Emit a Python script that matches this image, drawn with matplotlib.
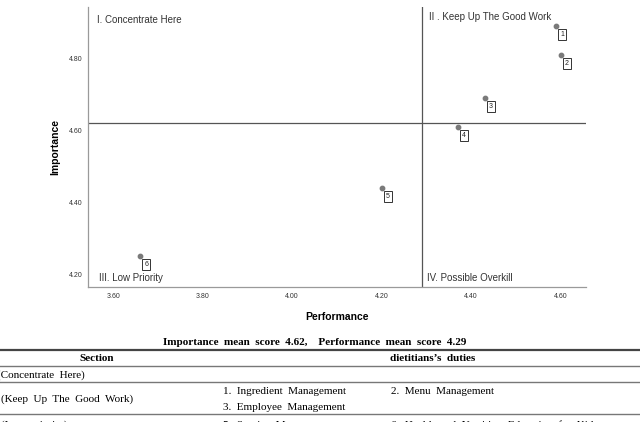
import matplotlib
matplotlib.use("Agg")
import matplotlib.pyplot as plt
from matplotlib.lines import Line2D

# ---- data ----
performance = [4.59, 4.60, 4.43, 4.37, 4.20, 3.66]
importance = [4.89, 4.81, 4.69, 4.61, 4.44, 4.25]
point_labels = ["1", "2", "3", "4", "5", "6"]
imp_mean = 4.62
perf_mean = 4.29
x_ticks = [3.60, 3.80, 4.00, 4.20, 4.40, 4.60]
y_ticks = [4.20, 4.40, 4.60, 4.80]
quadrants = ["I. Concentrate Here", "II . Keep Up The Good Work",
             "III. Low Priority", "IV. Possible Overkill"]
title_text = "Importance  mean  score  4.62,    Performance  mean  score  4.29"
table_header = ["Section", "dietitians\u2019s  duties"]
table_sections = ["(Concentrate  Here)", "(Keep  Up  The  Good  Work)", "(Low  priority)"]
table_duties = [[], ["1.  Ingredient  Management", "2.  Menu  Management", "3.  Employee  Management"],
                ["5.  Service  Management", "6.  Health  and  Nutrition  Education  for  Kids"]]

W, H = 640, 422
fig = plt.figure(figsize=(W / 100, H / 100), dpi=100)

def fx(px):
    return px / W

def fy(py):
    return 1 - py / H

ax = fig.add_axes([fx(87.7), fy(287), fx(585.7) - fx(87.7), fy(7) - fy(287)])
sans = "Liberation Sans"
serif = "Liberation Serif"

ax.set_xlim(3.543, 4.656)
ax.set_ylim(4.164, 4.943)
for s in ["top", "right"]:
    ax.spines[s].set_visible(False)
for s in ["left", "bottom"]:
    ax.spines[s].set_color("#9a9a9a")
    ax.spines[s].set_linewidth(0.9)

ax.axhline(imp_mean, color="#555555", lw=0.9)
ax.axvline(perf_mean, color="#555555", lw=0.9)

ax.scatter(performance, importance, s=10, color="#7a7a7a", zorder=3)
for x, y, lab in zip(performance, importance, point_labels):
    ax.annotate(lab, (x, y), xytext=(4.5, -6.3), textcoords="offset points",
                ha="center", va="center", fontsize=5, family=sans, color="#222222",
                bbox=dict(boxstyle="square,pad=0.3", fc="white", ec="#333333", lw=0.7))

ax.set_xticks(x_ticks)
ax.set_xticklabels([f"{v:.2f}" for v in x_ticks])
ax.set_yticks(y_ticks)
ax.set_yticklabels([f"{v:.2f}" for v in y_ticks])
ax.tick_params(length=0, labelsize=5, labelcolor="#333333")
ax.tick_params(axis="x", pad=4)
ax.tick_params(axis="y", pad=4)
for t in ax.get_xticklabels() + ax.get_yticklabels():
    t.set_family(sans)

ax.set_xlabel("Performance", family=sans, fontsize=7.5, fontweight="bold", labelpad=9)
ax.set_ylabel("Importance", family=sans, fontsize=7.5, fontweight="bold", labelpad=6)

qkw = dict(family=sans, fontsize=7, color="#333333", va="center", ha="left")
ax.text(3.563, 4.907, quadrants[0], **qkw)
ax.text(4.306, 4.914, quadrants[1], **qkw)
ax.text(3.569, 4.19, quadrants[2], **qkw)
ax.text(4.302, 4.19, quadrants[3], **qkw)

# ---- caption + table ----
fig.text(fx(315), fy(342.7), title_text, ha="center", va="center",
         family=serif, fontweight="bold", fontsize=8)

for yy, lw, col in [(350, 1.6, "#444444"), (366, 1.0, "#777777"),
                    (382, 1.0, "#777777"), (413.5, 1.0, "#777777")]:
    fig.add_artist(Line2D([0, 1], [fy(yy), fy(yy)], transform=fig.transFigure,
                          color=col, lw=lw))

tkw = dict(family=serif, fontsize=8, va="center")
fig.text(fx(96.7), fy(358.3), table_header[0], ha="center", fontweight="bold", **tkw)
fig.text(fx(433), fy(358.3), table_header[1], ha="center", fontweight="bold", **tkw)

fig.text(fx(-3), fy(375), table_sections[0], ha="left", **tkw)
fig.text(fx(1), fy(399), table_sections[1], ha="left", **tkw)
fig.text(fx(1), fy(425), table_sections[2], ha="left", **tkw)

fig.text(fx(222.7), fy(391), table_duties[1][0], ha="left", **tkw)
fig.text(fx(390.7), fy(391), table_duties[1][1], ha="left", **tkw)
fig.text(fx(222.7), fy(407.3), table_duties[1][2], ha="left", **tkw)
fig.text(fx(222.7), fy(425), table_duties[2][0], ha="left", **tkw)
fig.text(fx(390.7), fy(425), table_duties[2][1], ha="left", **tkw)

fig.savefig("out.png", dpi=100)
